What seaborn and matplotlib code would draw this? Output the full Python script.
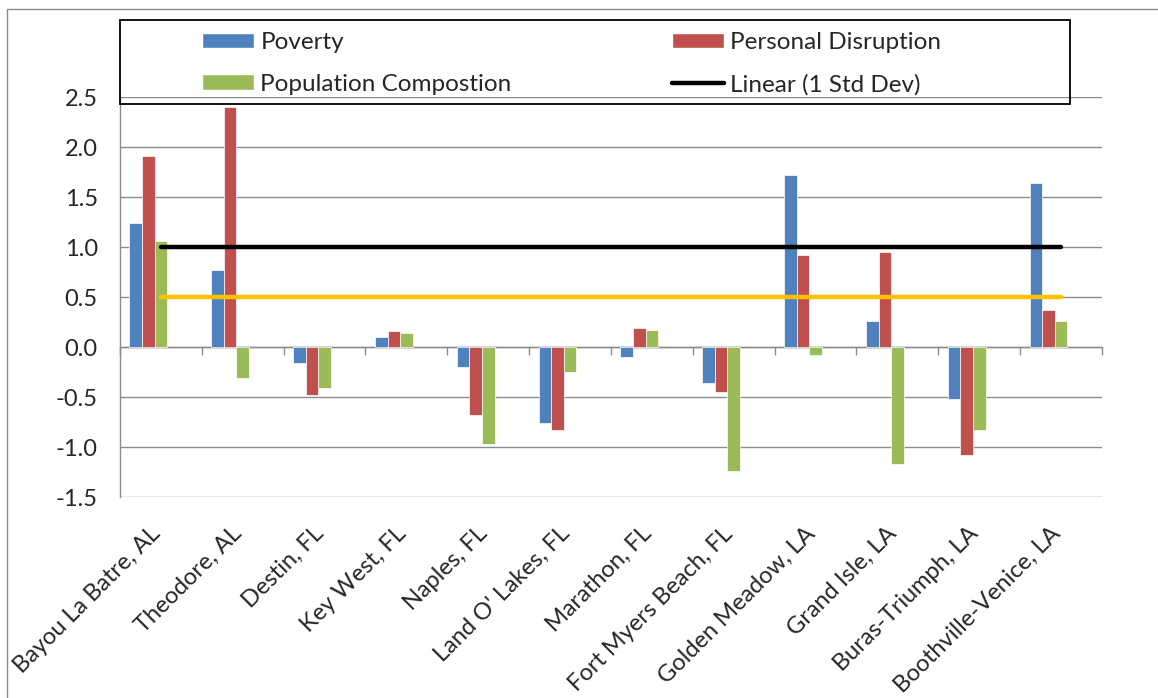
import numpy as np
import pandas as pd
import matplotlib.pyplot as plt
import seaborn as sns
from matplotlib.patches import Patch, Rectangle
from matplotlib.lines import Line2D
from matplotlib.transforms import ScaledTranslation

# Data
cities = ["Bayou La Batre, AL", "Theodore, AL", "Destin, FL", "Key West, FL",
          "Naples, FL", "Land O' Lakes, FL", "Marathon, FL", "Fort Myers Beach, FL",
          "Golden Meadow, LA", "Grand Isle, LA", "Buras-Triumph, LA", "Boothville-Venice, LA"]
poverty = [1.24, 0.77, -0.16, 0.10, -0.20, -0.76, -0.10, -0.36, 1.72, 0.26, -0.52, 1.64]
personal = [1.91, 2.40, -0.48, 0.16, -0.68, -0.83, 0.19, -0.45, 0.92, 0.95, -1.08, 0.37]
population = [1.06, -0.31, -0.41, 0.14, -0.97, -0.25, 0.17, -1.24, -0.08, -1.17, -0.83, 0.26]
one_std = [1.0, 1.0, 1.0, 1.0, 1.0, 1.0, 1.0, 1.0, 1.0, 1.0, 1.0, 1.0]
half_std = [0.5, 0.5, 0.5, 0.5, 0.5, 0.5, 0.5, 0.5, 0.5, 0.5, 0.5, 0.5]

series_names = ["Poverty", "Personal Disruption", "Population Compostion"]
colors = {"Poverty": "#4F81BD", "Personal Disruption": "#C0504D",
          "Population Compostion": "#9BBB59", "_a": "white", "_b": "white"}
# two empty slots, like the hidden series in the original workbook
hue_levels = series_names + ["_a", "_b"]

df = pd.DataFrame({
    "city": cities * 3,
    "series": [s for s in series_names for _ in cities],
    "value": poverty + personal + population,
})

sns.set_style("white")
plt.rcParams["font.family"] = ["Lato", "DejaVu Sans"]
grid_col = "#8c8c8c"

fig = plt.figure(figsize=(11.58, 6.98), dpi=100)
ax = fig.add_axes([120 / 1158, 1 - 497 / 698, 982 / 1158, 400 / 698])

sns.barplot(data=df, x="city", y="value", hue="series", hue_order=hue_levels,
            palette=colors, width=0.77, errorbar=None, saturation=1,
            edgecolor="white", linewidth=0.5, legend=False, ax=ax, zorder=3)

pos = np.arange(len(cities))
sns.lineplot(x=pos, y=half_std, color="#FFC000", linewidth=3.2,
             solid_capstyle="round", ax=ax, zorder=4)
sns.lineplot(x=pos, y=one_std, color="black", linewidth=3.2,
             solid_capstyle="round", ax=ax, zorder=4)

ax.set_xlim(-0.5, len(cities) - 0.5)
ax.set_ylim(-1.5, 2.5)
ax.set_yticks(np.arange(-1.5, 2.51, 0.5))
ax.set_yticklabels([f"{v:.1f}" for v in np.arange(-1.5, 2.51, 0.5)])
ax.yaxis.grid(True, color=grid_col, linewidth=1.0)
ax.set_axisbelow(True)
ax.set_xlabel("")
ax.set_ylabel("")

for s in ["top", "right", "bottom"]:
    ax.spines[s].set_visible(False)
ax.spines["left"].set_color(grid_col)
ax.spines["left"].set_linewidth(1.0)

ax.tick_params(axis="y", length=6, color=grid_col, width=1.0, pad=10, labelsize=17)
ax.set_xticks(pos)
ax.set_xticklabels(cities, rotation=45, ha="right", va="center",
                   rotation_mode="anchor", fontsize=17)
ax.tick_params(axis="x", length=0, pad=24)
shift = ScaledTranslation(-4 / 100, 0, fig.dpi_scale_trans)
for lab in ax.get_xticklabels():
    lab.set_transform(lab.get_transform() + shift)

# zero axis with category boundary ticks
zero_ax = ax.secondary_xaxis(1.5 / 4.0)
zero_ax.set_xticks(np.arange(-0.5, len(cities), 1))
zero_ax.tick_params(axis="x", direction="out", length=6, width=1.0,
                    color=grid_col, labelbottom=False)
zero_ax.spines["bottom"].set_color(grid_col)
zero_ax.spines["bottom"].set_linewidth(1.0)

# legend
handles = [Patch(facecolor=colors["Poverty"]),
           Patch(facecolor=colors["Population Compostion"]),
           Patch(facecolor=colors["Personal Disruption"]),
           Line2D([], [], color="black", linewidth=3.2, solid_capstyle="round")]
labels = ["Poverty", "Population Compostion", "Personal Disruption", "Linear (1 Std Dev)"]
fig.legend(handles, labels, ncol=2, loc="upper left",
           bbox_to_anchor=(202 / 1158, 1 - 32 / 698), frameon=False,
           fontsize=17.5, borderpad=0, borderaxespad=0, handlelength=2.15,
           handleheight=0.6, handletextpad=0.25, columnspacing=6.6, labelspacing=0.85)
fig.patches.append(Rectangle((120 / 1158, 1 - 104 / 698), 950 / 1158, 84 / 698,
                             transform=fig.transFigure, fill=False,
                             edgecolor="black", linewidth=1.3))
fig.patches.append(Rectangle((7 / 1158, -0.05), 1.1, 1.05 - 9 / 698,
                             transform=fig.transFigure, fill=False,
                             edgecolor="#8c8c8c", linewidth=1.0))

fig.savefig("out.png", dpi=100)
